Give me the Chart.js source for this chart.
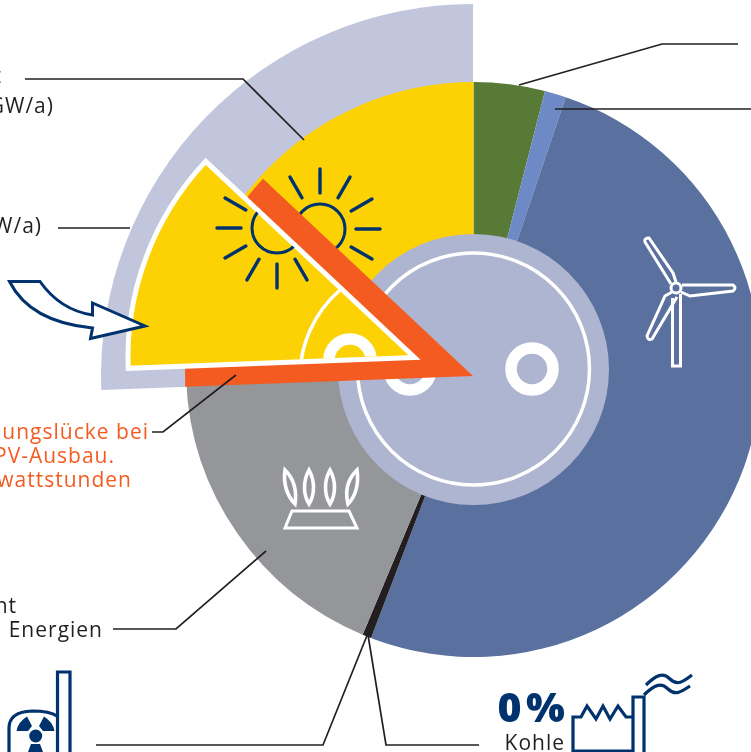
<!DOCTYPE html>
<html lang="de">
<head>
<meta charset="utf-8">
<title>Strommix</title>
<script src="https://cdn.jsdelivr.net/npm/chart.js@4/dist/chart.umd.min.js"></script>
<style>
html, body { margin: 0; padding: 0; background: #fff; }
#stage { position: relative; width: 751px; height: 752px; overflow: hidden; }
#stage canvas, #stage svg { position: absolute; }
#stage svg { left: 0; top: 0; }
text { font-family: "Open Sans", sans-serif; font-size: 21px; letter-spacing: 1px; fill: #231f20; }
text.gap { fill: #f35b21; }
.line { fill: none; stroke: #231f20; stroke-width: 1.7; }
.navy { fill: none; stroke: #00336e; stroke-width: 3.2; }
.ray { stroke: #00336e; stroke-width: 3.4; stroke-linecap: round; }
.icon { fill: none; stroke: #fff; stroke-width: 3; }
.flame { stroke-width: 3.6; }
</style>
</head>
<body>
<div id="stage">
<svg id="under" width="751" height="752">
  <g fill="none" stroke="#fff">
    <circle cx="473.5" cy="369" r="116" stroke-width="3.5"></circle>
    <circle cx="532" cy="369" r="21" stroke-width="11.5"></circle>
    <circle cx="410" cy="369" r="21" stroke-width="11.5"></circle>
  </g>
  <g id="sunMain"></g>
</svg>
<svg id="over" width="751" height="752">
  <defs>
    <clipPath id="wedgeClip"><polygon points="408,355 205,163 125,290 125,366"></polygon></clipPath>
  </defs>
  <g clip-path="url(#wedgeClip)">
    <g id="sunMoved"></g>
    <path d="M340 290 A116 116 0 0 0 300 380" fill="none" stroke="#fff" stroke-width="3.5"></path>
    <circle cx="350" cy="360" r="21" fill="none" stroke="#fff" stroke-width="11.5"></circle>
  </g>

  <!-- Gas -->
  <g class="icon flame">
    <path d="M285 470 C283 483 287 496 295 504 C297 491 295 480 285 470 Z"></path>
    <path d="M309 470 C303 481 303 494 309 504 C315 494 315 481 309 470 Z"></path>
    <path d="M330 470 C324 481 324 494 330 504 C336 494 336 481 330 470 Z"></path>
    <path d="M357 470 C347 480 345 492 348 504 C356 496 359 483 357 470 Z"></path>
  </g>
  <path class="icon" d="M292 511 H349 L357 528 H285 Z"></path>

  <!-- Wind -->
  <g class="icon">
    <circle cx="676" cy="288" r="5"></circle>
    <path d="M671 284 L645 242 Q644 238 649 238 L673 273 L676 282"></path>
    <path d="M682 285 H733 Q737 288 733 291 L690 296 L681 292"></path>
    <path d="M672 292 L665 296 L647 336 Q648 341 652 339 L677 297"></path>
    <path d="M672.5 298 V366 H680.5 V294"></path>
  </g>

  <!-- arrow -->
  <path d="M9.5 281.5 H40 Q60 310 92.5 315 V303 L145 326 L90.5 338.5 L92.5 328 Q30 322 9.5 281.5 Z" fill="#fff" stroke="#00336e" stroke-width="3"></path>

  <!-- callouts -->
  <polyline class="line" points="25,79 243,79 304,140"></polyline>
  <polyline class="line" points="58,228 130,228"></polyline>
  <polyline class="line" points="152,432 163,432 236,375"></polyline>
  <polyline class="line" points="113,629 176,629 266,551"></polyline>
  <polyline class="line" points="96,745 323,745 368,633"></polyline>
  <polyline class="line" points="368,635 386,745 479,745"></polyline>
  <polyline class="line" points="519,85 662,44 738,44"></polyline>
  <polyline class="line" points="555,109 751,109"></polyline>

  <!-- texts, cut off at the left edge like the source -->
  <text x="2" y="83" text-anchor="end">t</text>
  <text x="54" y="113" text-anchor="end">GW/a)</text>
  <text x="42" y="233" text-anchor="end">W/a)</text>
  <text class="gap" x="149" y="439" text-anchor="end">ungslücke bei</text>
  <text class="gap" x="115" y="463" text-anchor="end">PV-Ausbau.</text>
  <text class="gap" x="132" y="487" text-anchor="end">wattstunden</text>
  <text x="17" y="613" text-anchor="end">nt</text>
  <text x="103" y="637" text-anchor="end">Energien</text>
  <text x="565" y="722" text-anchor="end" style="font-size:41px;font-weight:800;letter-spacing:0;word-spacing:-6px;fill:#00336e">0 %</text>
  <text x="565" y="750" text-anchor="end">Kohle</text>

  <!-- Kohle -->
  <polyline class="navy" points="573,752 573,717 581,717 587,706 596,719 603,706 610,719 618,706 626,717 633,717"></polyline>
  <path class="navy" d="M573 751 H633 M633 752 V697 H644 V752"></path>
  <path class="navy" d="M646 685 C656 675 663 672 670 679 C677 686 683 682 692 675"></path>
  <path class="navy" d="M644 695 C654 685 661 682 668 689 C675 696 681 692 690 686"></path>

  <!-- Kernkraft -->
  <path class="navy" d="M9 752 V728 Q9 712 32 711 Q50 711 57 716" stroke-width="3.4"></path>
  <path class="navy" d="M57.5 752 V672 H70 V752" stroke-width="3.4"></path>
  <circle cx="35.7" cy="736" r="6.5" fill="#00336e"></circle>
  <path d="M28 731 L16.5 731 Q18 722 27 716.5 L32 726 Z M43 731 L54.5 731 Q53 722 44 716.5 L39 726 Z M28 752 L31 744 L40 744 L43 752 Z" fill="#00336e"></path>
</svg>
</div>

<script>
// Anteile in Prozent, im Uhrzeigersinn ab 12 Uhr
let ringLabels = ['Biomasse', 'Wasser', 'Wind', 'Kernkraft', 'Gas', 'Photovoltaik'];
let ringValues = [4.0, 1.2, 50.6, 0.5, 18.1, 25.6];
let ringColors = ['#587a37', '#6d8ac6', '#5a709f', '#231f20', '#959699', '#fdd204'];

let potentialValues = [74.4, 25.6];   // Potenzial, hellblau aussen
let gapValues = [74.4, 12.6, 13.0];   // Versorgungslücke, orange
let movedValues = [74.4, 12.6, 13.0]; // herausgezogenes PV-Stück
let hubValues = [100];

// Sun rays
let rayAngles = [0, 30, 60, 90, 120, 150, 180, 210, 240, 270, 300, 330];

function addLayer(before, cx, cy, radius, values, colors, borders) {
    let size = Math.ceil(radius * 2 + 12);
    let canvas = document.createElement('canvas');
    canvas.width = size;
    canvas.height = size;
    canvas.style.left = (cx - size / 2) + 'px';
    canvas.style.top = (cy - size / 2) + 'px';
    document.getElementById('stage').insertBefore(canvas, before);
    return new Chart(canvas.getContext('2d'), {
        type: 'pie',
        data: {
            labels: values.map((v, i) => ringLabels[i] || ''),
            datasets: [{
                data: values,
                backgroundColor: colors,
                borderWidth: borders || 0,
                borderColor: '#fff',
                borderJoinStyle: 'miter'
            }]
        },
        options: {
            responsive: false,
            animation: false,
            radius: radius,
            rotation: 0,
            events: [],
            plugins: { legend: { display: false }, tooltip: { enabled: false } }
        }
    });
}

function drawSun(id, cx, cy, angles) {
    let ns = 'http://www.w3.org/2000/svg';
    let g = document.getElementById(id);
    let circle = document.createElementNS(ns, 'circle');
    circle.setAttribute('cx', cx);
    circle.setAttribute('cy', cy);
    circle.setAttribute('r', 25);
    circle.setAttribute('fill', 'none');
    circle.setAttribute('stroke', '#00336e');
    circle.setAttribute('stroke-width', 3);
    g.appendChild(circle);
    angles.forEach(a => {
        let rad = a * Math.PI / 180;
        let ray = document.createElementNS(ns, 'line');
        ray.setAttribute('class', 'ray');
        ray.setAttribute('x1', cx + Math.sin(rad) * 36);
        ray.setAttribute('y1', cy - Math.cos(rad) * 36);
        ray.setAttribute('x2', cx + Math.sin(rad) * 60);
        ray.setAttribute('y2', cy - Math.cos(rad) * 60);
        g.appendChild(ray);
    });
}

let under = document.getElementById('under');
let over = document.getElementById('over');

addLayer(under, 473, 376, 372, potentialValues, ['rgba(0,0,0,0)', '#c1c6dd']);
addLayer(under, 473.5, 369, 287.5, ringValues, ringColors);
addLayer(under, 473.5, 369, 135.5, hubValues, ['#aeb5d1']);
addLayer(over, 473, 376, 288, gapValues, ['rgba(0,0,0,0)', '#f35b21', 'rgba(0,0,0,0)']);
addLayer(over, 414.5, 357, 286.5, movedValues, ['rgba(0,0,0,0)', '#fdd204', 'rgba(0,0,0,0)'], [0, 5, 0]);

drawSun('sunMain', 320, 229, rayAngles);
drawSun('sunMoved', 277, 228, rayAngles);
</script>
</body>
</html>
